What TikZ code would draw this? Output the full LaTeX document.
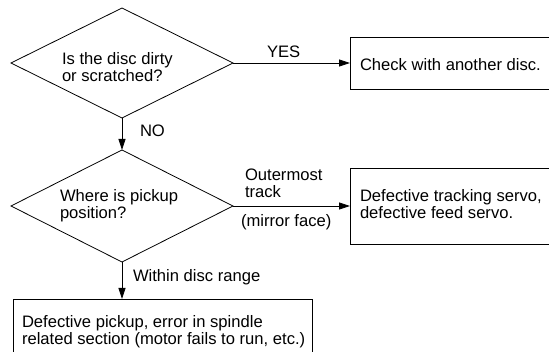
\documentclass[tikz,border=0pt]{standalone}
\usepackage{fontspec}
\setmainfont{Liberation Sans}
\usetikzlibrary{shapes.geometric,arrows.meta}
\begin{document}
\begin{tikzpicture}[x=1pt,y=-1pt,
  every node/.style={inner sep=0pt, outer sep=0pt},
  txt/.style={font=\fontsize{16.6}{17}\selectfont, align=left, anchor=base west},
  decision/.style={diamond, draw, line width=0.8pt, minimum width=222pt, minimum height=112pt},
  result/.style={draw, line width=0.8pt, anchor=north west},
  flow/.style={line width=0.8pt, -{Triangle[length=11pt,width=7pt]}}]
\useasboundingbox (0,0) rectangle (549,352);
\clip (0,0) rectangle (549,352);
% shapes
\node[decision, minimum height=110pt] (d1) at (122,63) {};
\node[decision] (d2) at (122,206) {};
\node[result, minimum width=210pt, minimum height=52pt] (b1) at (350,37) {};
\node[result, minimum width=210pt, minimum height=76pt] (b2) at (350,168) {};
\node[result, minimum width=299pt, minimum height=70pt] (b3) at (13,299) {};
% connectors
\draw[flow] (d1.east) -- (b1.west);
\draw[flow] (d1.south) -- (d2.north);
\draw[flow] (d2.east) -- (b2.west);
\draw[flow] (d2.south) -- (d2.south |- b3.north);
% texts (base = baseline of the last line)
\node[txt] (t1) at (62,82) {Is the disc dirty\\or scratched?};
\node[txt] (yes) at (267,58) {YES};
\node[txt] (t2) at (360,71) {Check with another disc.};
\node[txt] (no) at (140,137) {NO};
\node[txt] (t3) at (60,219) {Where is pickup\\position?};
\node[txt] (outer) at (245,198) {Outermost\\track};
\node[txt] (mirror) at (241,227) {(mirror face)};
\node[txt] (t4) at (360,219) {Defective tracking servo,\\defective feed servo.};
\node[txt] (within) at (133,282) {Within disc range};
\node[txt] (t5) at (22,345) {Defective pickup, error in spindle\\related section (motor fails to run, etc.)};
\end{tikzpicture}
\end{document}
